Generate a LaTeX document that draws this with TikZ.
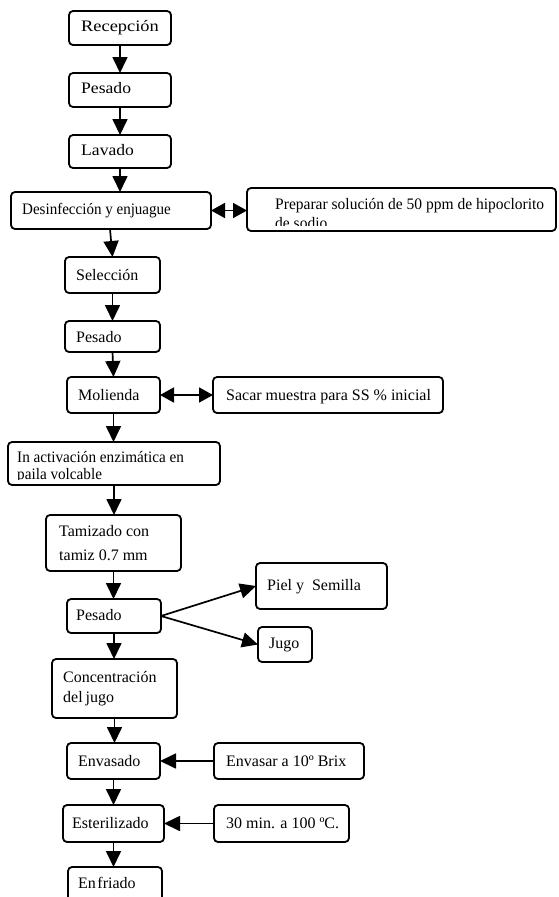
\documentclass[tikz,border=0pt]{standalone}
\usepackage{fontspec}
\usepackage{graphicx}
\setmainfont{Liberation Serif}
\usetikzlibrary{arrows.meta}
\newcommand{\fsz}{\fontsize{16pt}{19pt}\selectfont}
\begin{document}
\begin{tikzpicture}[x=1pt,y=-1pt,
  box/.style={draw,line width=1.8pt,rounded corners=4pt,anchor=north west,inner sep=0pt,outer sep=0pt},
  txt/.style={inner sep=0pt,anchor=base west,font=\fsz},
  arr/.style={line width=1.7pt,-{Triangle[length=16pt,width=15pt]}},
  dbl/.style={line width=1.7pt,{Triangle[length=14pt,width=15pt]}-{Triangle[length=14pt,width=15pt]}}]
\clip (0,0) rectangle (558,897);
\fill[white] (0,0) rectangle (558,897);
% boxes
\node[box,minimum width=102pt,minimum height=34pt] (rec) at (69,11) {};
\node[box,minimum width=102pt,minimum height=34pt] (pes1) at (69,73) {};
\node[box,minimum width=102pt,minimum height=33pt] (lav) at (69,135) {};
\node[box,minimum width=200pt,minimum height=37pt] (des) at (11,192) {};
\node[box,minimum width=309pt,minimum height=43pt] (prep) at (247,188) {};
\node[box,minimum width=95pt,minimum height=36pt] (sel) at (65,257) {};
\node[box,minimum width=95pt,minimum height=31pt] (pes2) at (65,321) {};
\node[box,minimum width=93pt,minimum height=36pt] (mol) at (67,377) {};
\node[box,minimum width=230pt,minimum height=36pt] (sac) at (213,377) {};
\node[box,minimum width=212pt,minimum height=43pt] (ina) at (8,442) {};
\node[box,minimum width=135pt,minimum height=56pt] (tam) at (46,515) {};
\node[box,minimum width=94pt,minimum height=34pt] (pes3) at (67,599) {};
\node[box,minimum width=131pt,minimum height=46pt] (piel) at (256,563) {};
\node[box,minimum width=54pt,minimum height=35pt] (jugo) at (258,627) {};
\node[box,minimum width=125pt,minimum height=59pt] (con) at (52,659) {};
\node[box,minimum width=93pt,minimum height=36pt] (env) at (67,743) {};
\node[box,minimum width=150pt,minimum height=36pt] (envb) at (214,743) {};
\node[box,minimum width=101pt,minimum height=37pt] (est) at (63,805) {};
\node[box,minimum width=135pt,minimum height=37pt] (tem) at (214,805) {};
\node[box,minimum width=94pt,minimum height=43pt] (enf) at (68,867) {};
% texts
\node[txt] (trec) at (81,31) {\scalebox{1.15}[1]{Recepción}};
\node[txt] (tpes1) at (81,93) {\scalebox{1.1}[1]{Pesado}};
\node[txt] (tlav) at (81,155) {\scalebox{1.1}[1]{Lavado}};
\node[txt] (tdes) at (22,214) {\scalebox{0.94}[1]{Desinfección y enjuague}};
\begin{scope}
  \clip (249,190) rectangle (554,225);
  \node[txt] (tprep1) at (275,209) {\scalebox{0.97}[1]{Preparar solución de 50 ppm de hipoclorito}};
  \node[txt] (tprep2) at (275,228) {\scalebox{0.97}[1]{de sodio}};
\end{scope}
\node[txt] (tsel) at (76,280) {Selección};
\node[txt] (tpes2) at (76,342) {Pesado};
\node[txt] (tmol) at (78,400) {Molienda};
\node[txt] (tsac) at (226,400) {Sacar muestra para SS \% inicial};
\begin{scope}
  \clip (10,444) rectangle (218,479);
  \node[txt] (tina1) at (17,462) {\scalebox{0.95}[1]{In activación enzimática en}};
  \node[txt] (tina2) at (17,479) {\scalebox{0.95}[1]{paila volcable}};
\end{scope}
\node[txt] (ttam1) at (59,536) {Tamizado con};
\node[txt] (ttam2) at (59,560) {tamiz 0.7 mm};
\node[txt] (tpes3) at (76,620) {Pesado};
\node[txt] (tpiel) at (267,590) {Piel y\ \ Semilla};
\node[txt] (tjugo) at (269,648) {Jugo};
\node[txt] (tcon1) at (63,682) {Concentración};
\node[txt] (tcon2) at (63,702) {del\hspace{-1pt} jugo};
\node[txt] (tenv) at (78,766) {Envasado};
\node[txt] (tenvb) at (226,766) {Envasar a 10º Brix};
\node[txt] (test) at (72,828) {Esterilizado};
\node[txt] (ttem) at (226,828) {30 min. a 100 ºC.};
\node[txt] (tenf) at (78,888) {En\hspace{1.5pt}friado};
% connectors
\draw[arr] (rec.south) -- (pes1.north);
\draw[arr] (pes1.south) -- (lav.north);
\draw[arr] (lav.south) -- (lav.south |- des.north);
\draw[arr] ([xshift=-1pt]des.south) -- (sel.north);
\draw[arr] (sel.south) -- (sel.south |- pes2.north);
\draw[arr] (pes2.south) -- (mol.north);
\draw[arr] (mol.south) -- (mol.south |- ina.north);
\draw[arr] (ina.south) -- (ina.south |- tam.north);
\draw[arr] (tam.south) -- (tam.south |- pes3.north);
\draw[arr] (pes3.south) -- (pes3.south |- con.north);
\draw[arr] (con.south) -- (con.south |- env.north);
\draw[arr] (env.south) -- (env.south |- est.north);
\draw[arr] (est.south) -- (est.south |- enf.north);
\draw[dbl] (des.east) -- (des.east -| prep.west);
\draw[dbl] (mol.east) -- (sac.west);
\draw[arr] (pes3.east) -- (piel.west);
\draw[arr] (pes3.east) -- (jugo.west);
\draw[arr] (envb.west) -- (env.east);
\draw[arr] (tem.west) -- (est.east);
\end{tikzpicture}
\end{document}
